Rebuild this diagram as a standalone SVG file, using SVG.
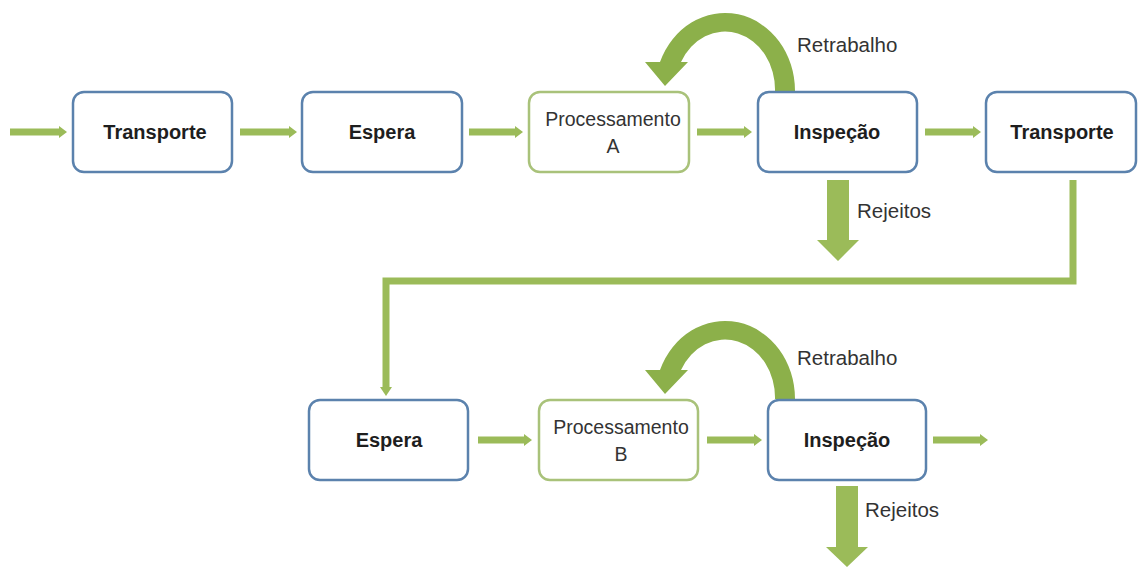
<svg xmlns="http://www.w3.org/2000/svg" width="1138" height="567" viewBox="0 0 1138 567">
<style>
.box{fill:#ffffff;stroke:#5b82ad;stroke-width:2.5}
.pbox{fill:#ffffff;stroke:#a9c27a;stroke-width:2.5}
.b{font-family:"Liberation Sans",Arial,sans-serif;font-weight:bold;font-size:20px;fill:#1e1e1e;text-anchor:middle}
.r{font-family:"Liberation Sans",Arial,sans-serif;font-size:19.5px;fill:#333333;text-anchor:middle}
.lab{font-family:"Liberation Sans",Arial,sans-serif;font-size:20.5px;fill:#333333}
.g{fill:#9bbb59}
.arc{fill:#8cb04a}
.line{fill:none;stroke:#9bbb59;stroke-width:7}
</style>
<rect width="1138" height="567" fill="#ffffff"/>
<g id="connectors">
  <path class="g" d="M10 128.5H59V126L67 132L59 138V135.5H10Z"/>
  <path class="g" d="M240 128.5H289V126L297 132L289 138V135.5H240Z"/>
  <path class="g" d="M469 128.5H515V126L523 132L515 138V135.5H469Z"/>
  <path class="g" d="M697 128.5H744V126L752 132L744 138V135.5H697Z"/>
  <path class="g" d="M925 128.5H973V126L981 132L973 138V135.5H925Z"/>
  <path class="g" d="M478 436.5H524V434L532 440L524 446V443.5H478Z"/>
  <path class="g" d="M707 436.5H754V434L762 440L754 446V443.5H707Z"/>
  <path class="g" d="M933 436.5H980V434L988 440L980 446V443.5H933Z"/>
  <polyline class="line" points="1073,180 1073,281 386,281 386,388"/>
  <path class="g" d="M380 387H392L386 396Z"/>
  <path class="arc" d="M795 91A70 78 0 0 0 660 62L645 62L665 86L688 62L681 62A50 58 0 0 1 775 91Z"/>
  <path class="arc" d="M795 399A70 78 0 0 0 660 370L645 370L665 394L688 370L681 370A50 58 0 0 1 775 399Z"/>
  <path class="g" d="M827 180H849V240H859L838 261L817 240H827Z"/>
  <path class="g" d="M836 486H858V547H868L847 567L826 547H836Z"/>
</g>
<g id="labels">
  <text class="lab" x="797" y="52">Retrabalho</text>
  <text class="lab" x="857" y="218">Rejeitos</text>
  <text class="lab" x="797" y="365">Retrabalho</text>
  <text class="lab" x="865" y="517">Rejeitos</text>
</g>
<g id="transporte1">
  <rect class="box" x="73" y="92" width="159" height="80" rx="11"/>
  <text class="b" x="155" y="139">Transporte</text>
</g>
<g id="espera1">
  <rect class="box" x="302" y="92" width="160" height="80" rx="11"/>
  <text class="b" x="382" y="139">Espera</text>
</g>
<g id="processamentoA">
  <rect class="pbox" x="529" y="92" width="160" height="80" rx="11"/>
  <text class="r" x="613" y="126">Processamento</text>
  <text class="r" x="613" y="153">A</text>
</g>
<g id="inspecao1">
  <rect class="box" x="758" y="92" width="159" height="80" rx="11"/>
  <text class="b" x="837" y="139">Inspeção</text>
</g>
<g id="transporte2">
  <rect class="box" x="986" y="92" width="150" height="80" rx="11"/>
  <text class="b" x="1062" y="139">Transporte</text>
</g>
<g id="espera2">
  <rect class="box" x="309" y="400" width="159" height="80" rx="11"/>
  <text class="b" x="389" y="447">Espera</text>
</g>
<g id="processamentoB">
  <rect class="pbox" x="539" y="400" width="159" height="80" rx="11"/>
  <text class="r" x="621" y="434">Processamento</text>
  <text class="r" x="621" y="461">B</text>
</g>
<g id="inspecao2">
  <rect class="box" x="768" y="400" width="158" height="80" rx="11"/>
  <text class="b" x="847" y="447">Inspeção</text>
</g>
</svg>
